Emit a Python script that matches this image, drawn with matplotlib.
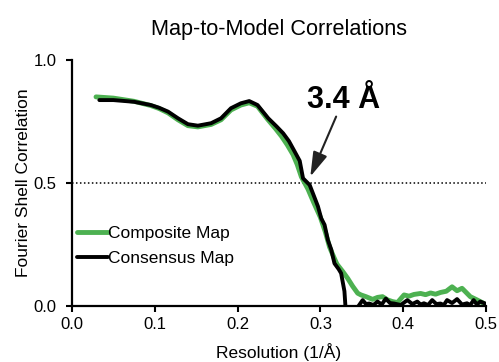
import matplotlib.pyplot as plt

plt.rcParams['font.family'] = ['Liberation Sans', 'DejaVu Sans']

# FSC curves (resolution in 1/Å vs correlation)
composite_x = [0.029, 0.05, 0.075, 0.095, 0.105, 0.116, 0.128, 0.140, 0.152, 0.168,
               0.180, 0.192, 0.204, 0.214, 0.224, 0.236, 0.246, 0.253, 0.260, 0.267,
               0.272, 0.277, 0.285, 0.292, 0.300, 0.306, 0.311, 0.316, 0.320, 0.327,
               0.333, 0.339, 0.345, 0.349, 0.355, 0.363, 0.369, 0.375, 0.381, 0.387,
               0.393, 0.401, 0.407, 0.413, 0.421, 0.427, 0.433, 0.439, 0.445, 0.452,
               0.459, 0.465, 0.471, 0.476, 0.481, 0.489, 0.497]
composite_y = [0.850, 0.845, 0.832, 0.815, 0.803, 0.785, 0.757, 0.733, 0.728, 0.738,
               0.757, 0.797, 0.817, 0.826, 0.812, 0.760, 0.720, 0.690, 0.655, 0.615,
               0.575, 0.525, 0.475, 0.420, 0.360, 0.300, 0.240, 0.200, 0.170, 0.140,
               0.112, 0.080, 0.052, 0.045, 0.038, 0.027, 0.035, 0.038, 0.025, 0.018,
               0.014, 0.045, 0.040, 0.047, 0.051, 0.046, 0.053, 0.048, 0.055, 0.060,
               0.078, 0.062, 0.072, 0.055, 0.038, 0.025, 0.011]

consensus_x = [0.033, 0.05, 0.075, 0.095, 0.105, 0.116, 0.128, 0.140, 0.152, 0.168,
               0.180, 0.192, 0.204, 0.214, 0.224, 0.237, 0.247, 0.255, 0.262, 0.269,
               0.275, 0.279, 0.287, 0.293, 0.297, 0.301, 0.305, 0.309, 0.313, 0.317,
               0.322, 0.325, 0.329, 0.331, 0.338, 0.345, 0.351, 0.355, 0.359, 0.364,
               0.369, 0.374, 0.379, 0.384, 0.389, 0.397, 0.401, 0.405, 0.411, 0.417,
               0.421, 0.425, 0.430, 0.435, 0.440, 0.445, 0.449, 0.453, 0.459, 0.465,
               0.471, 0.477, 0.481, 0.485, 0.489, 0.493, 0.499]
consensus_y = [0.837, 0.837, 0.830, 0.817, 0.806, 0.790, 0.763, 0.739, 0.733, 0.743,
               0.763, 0.804, 0.824, 0.833, 0.817, 0.763, 0.730, 0.702, 0.670, 0.627,
               0.590, 0.519, 0.492, 0.440, 0.405, 0.356, 0.330, 0.268, 0.230, 0.173,
               0.150, 0.133, 0.060, -0.040, -0.040, -0.005, 0.024, 0.008, 0.010, 0.004,
               0.018, 0.006, 0.030, 0.012, 0.010, 0.004, 0.014, 0.024, 0.008, 0.018,
               0.006, 0.011, 0.004, 0.024, 0.008, 0.010, 0.004, 0.024, 0.012, 0.028,
               0.006, 0.011, 0.004, 0.024, 0.006, 0.018, 0.010]

FSC_CUTOFF = 0.5
RES_LABEL = '3.4 Å'

fig = plt.figure(figsize=(4.99, 3.62), dpi=100)
ax = fig.add_axes([0.1443, 0.1547, 0.8297, 0.6796])

ax.plot(composite_x, composite_y, color='#4db151', lw=3.5, label='Composite Map',
        solid_capstyle='round', solid_joinstyle='round')
ax.plot(consensus_x, consensus_y, color='black', lw=2.8, label='Consensus Map',
        solid_capstyle='round', solid_joinstyle='round')
ax.axhline(FSC_CUTOFF, color='black', lw=1.1, ls=(0, (1, 1.6)), zorder=1)

# arrow pointing at the 0.5 crossing
ax.annotate('', xy=(0.2878, 0.526), xytext=(0.319, 0.770),
            arrowprops=dict(arrowstyle='-|>,head_length=1.0,head_width=0.3',
                            mutation_scale=15, color='#222222', lw=1.5,
                            shrinkA=0, shrinkB=0))
ax.text(0.3285, 0.804, RES_LABEL, ha='center', va='baseline',
        fontsize=22, fontweight='bold')

ax.set_xlim(0, 0.5)
ax.set_ylim(0, 1.0)
ax.set_xticks([0.0, 0.1, 0.2, 0.3, 0.4, 0.5])
ax.set_yticks([0.0, 0.5, 1.0])
ax.xaxis.set_major_formatter(plt.FormatStrFormatter('%.1f'))
ax.yaxis.set_major_formatter(plt.FormatStrFormatter('%.1f'))
ax.tick_params(direction='out', length=4, width=1.5, labelsize=12)
ax.tick_params(axis='y', pad=7)
ax.tick_params(axis='x', pad=4)
for side in ['top', 'right']:
    ax.spines[side].set_visible(False)
for side in ['left', 'bottom']:
    ax.spines[side].set_linewidth(1.6)

ax.set_title('Map-to-Model Correlations', fontsize=15.6, pad=18)
ax.set_xlabel('Resolution (1/Å)', fontsize=12.5, labelpad=8)
ax.set_ylabel('Fourier Shell Correlation', fontsize=12.5, labelpad=2)

ax.legend(loc='upper left', bbox_to_anchor=(0.0, 0.345), frameon=False,
          fontsize=12.5, handlelength=1.75, handletextpad=0.05, labelspacing=0.55,
          borderpad=0, borderaxespad=0.3)

fig.savefig('out.png', dpi=100)
